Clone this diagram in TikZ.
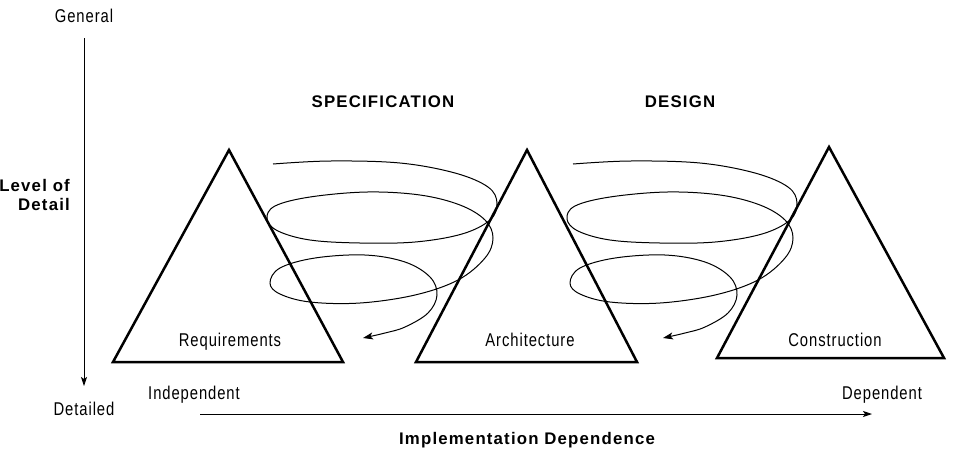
\documentclass[tikz,border=0pt]{standalone}
\usepackage{fontspec}
\setmainfont{Liberation Sans}
\newfontfamily\lblfont{Liberation Sans}[FakeStretch=0.8, LetterSpace=5]
\newfontfamily\headfont{Liberation Sans}[LetterSpace=7]
\usetikzlibrary{arrows.meta}

\begin{document}
\begin{tikzpicture}[x=1pt,y=-1pt,
  tri/.style={line width=2.5pt, line join=miter},
  spiralline/.style={line width=1pt, -{Stealth[length=10pt,width=7pt,inset=2.5pt]}},
  axis/.style={line width=0.9pt, -{Stealth[length=9pt,width=6pt,inset=2pt]}},
  lbl/.style={font=\lblfont\fontsize{18.5}{20}\selectfont, inner sep=0pt,
    text height=0.72em, text depth=0.2em},
  head/.style={font=\headfont\bfseries\fontsize{16.8}{19}\selectfont, inner sep=0pt},
]
\useasboundingbox (0,0) rectangle (960,459);

% the three phase triangles
\coordinate (r1) at (229,150); \coordinate (r2) at (113,362); \coordinate (r3) at (343,362);
\coordinate (a1) at (527,150); \coordinate (a2) at (416,362); \coordinate (a3) at (637,362);
\coordinate (c1) at (829,147); \coordinate (c2) at (717,358); \coordinate (c3) at (944,358);
\draw[tri] (r1) -- (r2) -- (r3) -- cycle;
\draw[tri] (a1) -- (a2) -- (a3) -- cycle;
\draw[tri] (c1) -- (c2) -- (c3) -- cycle;

\node[lbl] (req)  at (230,344) {Requirements};
\node[lbl] (arch) at (530,344) {Architecture};
\node[lbl] (cons) at (835,344) {Construction};

% phase headings
\node[head] (spec)   at (383,102) {SPECIFICATION};
\node[head] (design) at (680,102) {DESIGN};

% refinement spirals between the triangles
\foreach \dx in {0,300}{
  \begin{scope}[xshift=\dx pt]
    \draw[spiralline] plot[smooth, tension=0.6] coordinates {
      (273,164) (330,161) (400,163) (455,173) (488,187) (497,203) (490,220)
      (462,234) (415,242) (360,243) (310,240) (278,231) (267,219) (275,206)
      (310,197) (367,192) (420,195) (460,205) (485,220) (493,238) (485,258)
      (458,280) (415,295) (360,303) (310,302) (280,294) (270,283) (280,268)
      (315,258) (365,255) (405,262) (430,277) (437,295) (428,313) (405,327)
      (385,333) (363,338)};
  \end{scope}
}

% vertical axis: level of detail
\node[lbl] (general)  at (84,20)  {General};
\node[lbl] (detailed) at (84,413) {Detailed};
\coordinate (vtop) at (84,38);
\coordinate (vbot) at (84,386);
\draw[axis] (vtop) -- (vbot);
\node[head, align=right, anchor=east] (lod) at (70,195) {Level of\\Detail};

% horizontal axis: implementation dependence
\node[lbl] (indep) at (194,397) {Independent};
\node[lbl] (dep)   at (882,397) {Dependent};
\coordinate (hleft)  at (200,414);
\coordinate (hright) at (872,414);
\draw[axis] (hleft) -- (hright);
\node[head] (impl) at (527,440) {Implementation Dependence};
\end{tikzpicture}
\end{document}
